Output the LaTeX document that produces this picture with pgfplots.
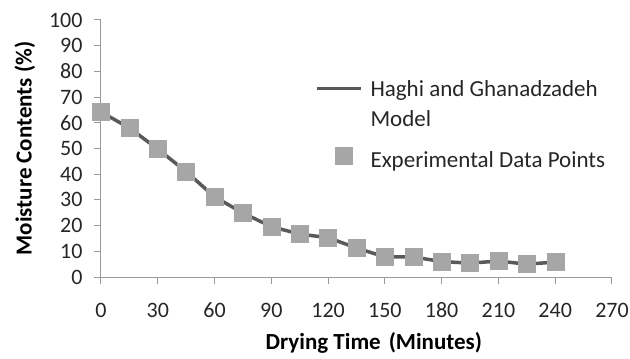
\documentclass[border=0pt]{standalone}
\usepackage{pgfplots}
\pgfplotsset{compat=1.18}
\usepackage{fontspec}
\setmainfont{Carlito}
\definecolor{linegray}{HTML}{595959}
\definecolor{markgray}{HTML}{A6A6A6}
\definecolor{axisgray}{HTML}{9A9A9A}
\definecolor{txt}{HTML}{262626}
\newcommand{\tickfont}{\fontsize{22}{26}\selectfont}
\pgfplotsset{
  lineleg/.style={legend image code/.code={\draw[##1] (0pt,16pt) -- (44pt,16pt);}},
  markleg/.style={legend image code/.code={\draw[##1] plot coordinates {(27pt,5pt)};}},
}
\begin{document}
\begin{tikzpicture}
\begin{axis}[
  at={(0pt,0pt)}, anchor=origin,
  scale only axis, width=511pt, height=257pt,
  xmin=0, xmax=270, ymin=0, ymax=100,
  xtick={0,30,...,270}, ytick={0,10,...,100},
  xticklabels={0,30,60,90,120,150,180,210,240,270},
  yticklabels={0,10,20,30,40,50,60,70,80,90,100},
  axis lines=left, axis line style={axisgray, line width=1pt, -},
  tick style={axisgray, line width=1pt},
  tick align=outside, major tick length=7pt,
  clip=false,
  xticklabel style={font=\tickfont, text=txt, anchor=center, yshift=-26pt},
  yticklabel style={font=\tickfont, text=txt, anchor=east, xshift=-8pt},
  xlabel={\textbf{Drying Time}\hspace{8pt}\textbf{(Minutes)}},
  ylabel={\textbf{Moisture Contents (\%)}},
  x label style={at={(axis description cs:0.534,-0.256)}, anchor=center, font=\fontsize{23}{27}\selectfont},
  y label style={at={(axis description cs:-0.149,0.5)}, anchor=center, font=\fontsize{23}{27}\selectfont},
  legend style={at={(axis cs:113,76.5)}, anchor=north west, draw=none, fill=none,
    inner sep=0pt, row sep=19pt, font=\fontsize{23}{30}\selectfont,
    nodes={align=left, text=txt, inner xsep=8pt, inner ysep=0pt}},
  legend cell align=left,
]
\addplot[linegray, line width=3.5pt, no marks, lineleg]
 coordinates {(0,64.2) (15,58) (30,49.8) (45,41) (60,31.2) (75,24.9) (90,19.6) (105,16.7) (120,15.3) (135,11.3) (150,7.8) (165,7.8) (180,6) (195,5.4) (210,6.2) (225,5) (240,5.8)};
\addlegendentry{Haghi and Ghanadzadeh\\Model}
\addplot[only marks, mark=square*, mark size=8.5pt, mark options={fill=markgray, draw=markgray}, markleg]
 coordinates {(0,64.2) (15,58) (30,49.8) (45,41) (60,31.2) (75,24.9) (90,19.6) (105,16.7) (120,15.3) (135,11.3) (150,7.8) (165,7.8) (180,6) (195,5.4) (210,6.2) (225,5) (240,5.8)};
\addlegendentry{Experimental Data Points}
\end{axis}
\pgfresetboundingbox
\path[use as bounding box] (-101pt,-82pt) rectangle (529pt,277pt);
\end{tikzpicture}
\end{document}
